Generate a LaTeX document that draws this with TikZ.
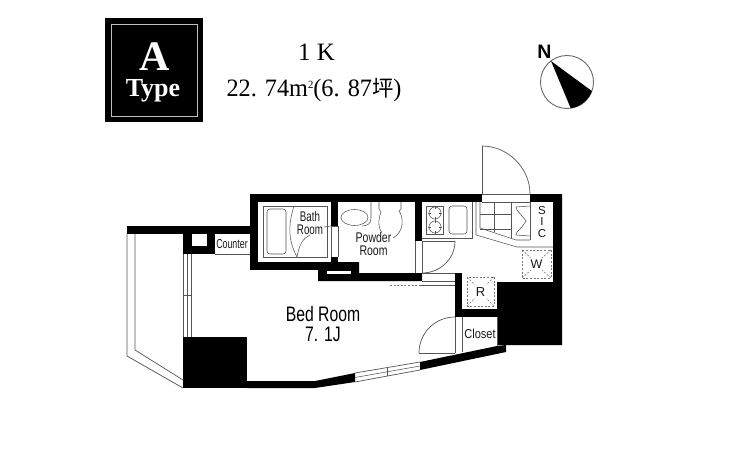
\documentclass[tikz,border=0pt]{standalone}
\usepackage{graphicx}
\usepackage{fontspec}
\setmainfont{Liberation Sans}
\newfontfamily\serifhead{Liberation Serif}
\newfontfamily\cjkfont{Noto Sans CJK JP}
\newcommand{\nrw}[2][.75]{\scalebox{#1}[1]{#2}}
\definecolor{ln}{HTML}{555555}
\tikzset{
  x=1pt,y=-1pt,
  wall/.style={fill=black,draw=none},
  ln/.style={draw=ln,line width=.7pt},
  thin ln/.style={draw=ln,line width=.55pt},
  dash ln/.style={draw=ln!80,line width=.6pt,dash pattern=on 2pt off 1.6pt},
  lab/.style={inner sep=0pt,text=black!90,align=center},
}
\begin{document}
\begin{tikzpicture}
\useasboundingbox (0,0) rectangle (739,450);
\fill[white] (0,0) rectangle (739,450);

% header
\fill[black] (105,18) rectangle (203,122);
\draw[draw=black!25,line width=.7pt] (111,24) rectangle (197,116);
\node[lab,text=white,font=\serifhead\bfseries\fontsize{42}{42}\selectfont] (typeA) at (155,57) {A};
\node[lab,text=white,font=\serifhead\bfseries\fontsize{26}{26}\selectfont] (typeT) at (153,91) {Type};
\node[lab,text=black,font=\serifhead\fontsize{25}{25}\selectfont] (kind) at (316.5,52) {1 K};
\node[lab,text=black,font=\serifhead\fontsize{25}{25}\selectfont] (area) at (314,90) {\scalebox{.97}[1]{22. 74m\raisebox{8pt}{\fontsize{11}{11}\selectfont 2}(6. 87{\cjkfont\fontsize{22}{22}\selectfont 坪})}};

% compass
\draw[draw=black!60,line width=.9pt] (567,82) circle (26.5pt);
\fill[black] (551,61) -- (591.9,91.06) .. controls (588.55,100.27) and (580.4,106.84) .. (570.7,108.2) -- cycle;
\node[lab,text=black,font=\bfseries\fontsize{19.5}{19.5}\selectfont] (north) at (544.5,52) {N};

% balcony
\fill[wall] (127,226) rectangle (250,234);
\draw[ln] (127,234) -- (127,356) -- (183,388);
\draw[ln] (135,234) -- (135,350) -- (183,380);

% black masses
\fill[wall] (183,234) rectangle (215,254);
\fill[white] (192,234) rectangle (207,246);
\fill[wall] (183,337) rectangle (247,388);
\fill[wall] (247,381) -- (315,381) -- (355,373) -- (355,382) -- (315,388) -- (247,388) -- cycle;
\fill[wall] (420,362) -- (497,346) -- (506,345) -- (506,352) -- (420,370) -- cycle;
\fill[wall] (497,282) -- (553,282) -- (553,194) -- (562,194) -- (562,345) -- (497,345) -- cycle;

% top and service walls
\fill[wall] (250,194) rectangle (482,202);
\fill[wall] (530,194) rectangle (562,202);
\fill[wall] (250,194) rectangle (258,270);
\fill[wall] (250,262) rectangle (331,270);
\fill[wall] (331,202) rectangle (338,226);
\fill[wall] (331,257) rectangle (338,262);
\fill[wall] (331,262) -- (359,262) -- (359,273) -- (422,273) -- (422,281) -- (318,281) -- (318,270) -- (331,270) -- cycle;
\fill[white] (327,270.5) rectangle (351,273.5);
\fill[wall] (415,202) rectangle (422,241);
\fill[wall] (455,273) rectangle (462,317);
\fill[wall] (455,309) rectangle (497,317);

% counter outline
\draw[thin ln] (215,254) -- (250,254);
\node[lab,font=\fontsize{13}{13}\selectfont] (counter) at (232,244) {\nrw[.68]{Counter}};

% window to balcony
\draw[ln] (183,254) -- (183,337);
\draw[thin ln] (187,254) -- (187,337);
\draw[thin ln] (191,254) -- (191,337);
\draw[thin ln] (183,295) -- (191,295) (187,291) -- (187,299);

% south window
\draw[ln] (355,373) -- (420,362);
\draw[thin ln] (355,377.5) -- (420,366);
\draw[ln] (355,382) -- (420,370);
\draw[thin ln] (387,367.5) -- (387,376);

% bath
\draw[thin ln] (263,206) rectangle (327,257);
\draw[thin ln,rounded corners=3pt] (267,209) rectangle (286,254);
\draw[thin ln] (294,206) .. controls (288,225) and (288,240) .. (297,257);
\draw[thin ln] (297,257) .. controls (299,245) and (303,238) .. (310,235);
\draw[thin ln] (324,227) -- (331,226);
\draw[thin ln] (331,226) -- (338,226) (331,226) -- (331,257) (338,226) -- (338,257);
\node[lab,font=\fontsize{14}{13}\selectfont] (bath) at (310,222.5) {\nrw[.7]{Bath}\\\nrw[.7]{Room}};

% powder room
\draw[thin ln] (354.5,217.5) ellipse (13.5pt and 8pt);
\draw[thin ln] (371,202) -- (371,218) .. controls (371,224) and (367,226) .. (362,226);
\draw[thin ln] (379,202) -- (379,209) -- (381,212) .. controls (378,220) and (378,228) .. (382,233);
\draw[thin ln] (401,202) -- (401,209) -- (399,211) .. controls (404,218) and (404,232) .. (393,238);
\node[lab,font=\fontsize{14}{12.5}\selectfont] (powder) at (373.5,244) {\nrw{Powder}\\\nrw{Room}};

% kitchen
\draw[thin ln] (415,241) -- (415,273) (422,241) -- (422,273);
\draw[thin ln] (422,238) -- (472,238) -- (472,202);
\draw[thin ln] (426,206) rectangle (443,234);
\draw[thin ln] (435,213) circle (6pt) (435,227) circle (6pt);
\draw[thin ln] (435,206) -- (435,209) (435,217) -- (435,223) (435,231) -- (435,234) (428,213) -- (431,213) (439,213) -- (442,213) (428,227) -- (431,227) (439,227) -- (442,227);
\draw[thin ln,rounded corners=3pt] (449,206) rectangle (467,234);

% kitchen door
\draw[ln] (422,241) -- (455,241);
\draw[ln] (455,241) .. controls (455,259) and (440,273) .. (422,273);
\draw[thin ln] (422,273) -- (455,273) (422,281) -- (455,281);

% threshold dashed
\draw[dash ln] (390,285) -- (420,285);
\draw[thin ln] (420,285) -- (455,285);

% shoe box / entrance
\draw[ln] (482,146) -- (482,194);
\draw[ln] (482,146) .. controls (508,146) and (530,168) .. (530,194);
\draw[thin ln] (482,194) -- (530,194) (482,202) -- (530,202);
\draw[thin ln] (476,202) -- (476,235) -- (517,247) -- (553,247);
\draw[thin ln] (480,202) -- (480,228) -- (516,240) -- (530,240);
\draw[thin ln] (494,202) -- (494,232) (511,202) -- (511,238) (530,202) -- (530,240);
\draw[thin ln] (480,214) -- (511,214) (480,229) -- (511,229);
\draw[thin ln] (530,206) -- (516,207) -- (517,210) .. controls (520,214) and (524,218) .. (526,221)
  .. controls (524,225) and (520,229) .. (517,232) -- (516,235) -- (530,236);
\node[lab,font=\fontsize{11.5}{11.5}\selectfont] (sicS) at (542,210.5) {S};
\node[lab,font=\fontsize{11.5}{11.5}\selectfont] (sicI) at (542,222) {I};
\node[lab,font=\fontsize{11.5}{11.5}\selectfont] (sicC) at (542,233.5) {C};

% W box
\draw[dash ln] (522,250) rectangle (551,278);
\draw[dash ln] (522,250) -- (531,258) (551,250) -- (542,258) (522,278) -- (531,270) (551,278) -- (542,270);
\node[lab,font=\fontsize{12.5}{12.5}\selectfont] (boxW) at (536.5,264) {W};

% R box
\draw[dash ln] (467,277) rectangle (494,306);
\draw[dash ln] (467,277) -- (475,285) (494,277) -- (486,285) (467,306) -- (475,298) (494,306) -- (486,298);
\node[lab,font=\fontsize{13}{13}\selectfont] (boxR) at (480.5,292) {R};

% closet
\draw[thin ln] (462,317) -- (462,351.5) (455,317) -- (455,353);
\draw[thin ln] (497,317) -- (497,346);
\node[lab,font=\fontsize{13}{13}\selectfont] (closet) at (480,333.5) {\nrw[.85]{Closet}};
\draw[ln] (419,353) -- (455,353);
\draw[ln] (455,317) .. controls (435,317) and (419,333) .. (419,353);

% room label
\node[lab,text=black,font=\fontsize{21}{20}\selectfont] (bed) at (323,323.5) {\nrw{Bed Room}\\\nrw{7. 1J}};
\end{tikzpicture}
\end{document}
